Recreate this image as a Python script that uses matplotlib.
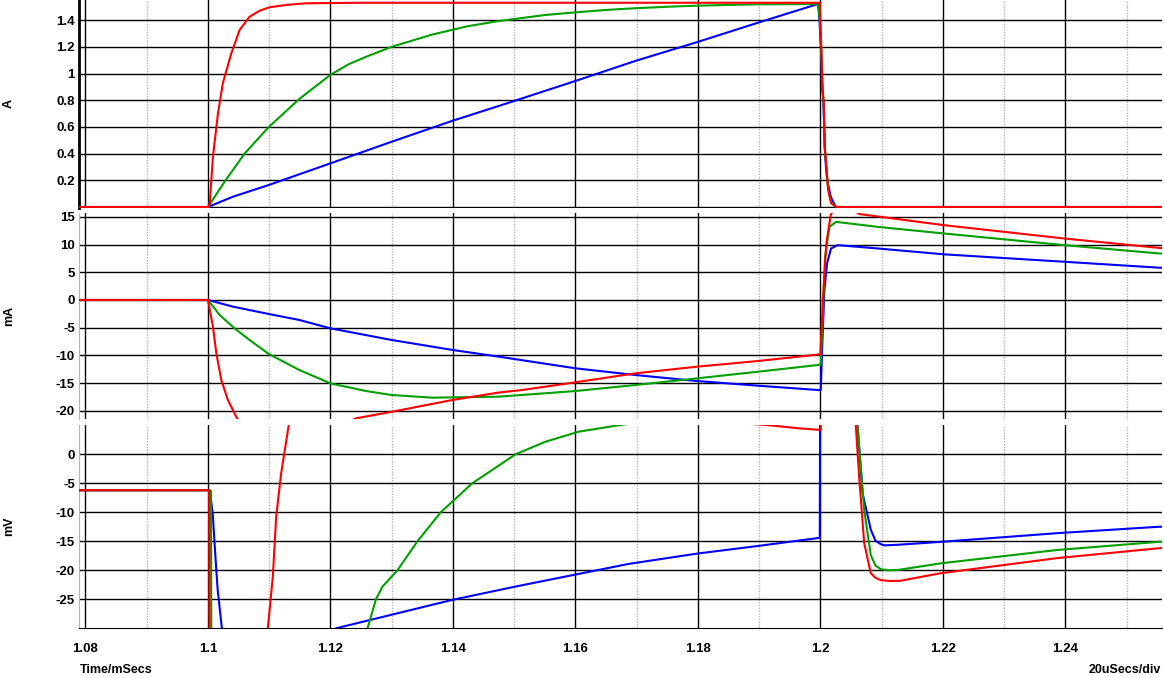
import numpy as np
import matplotlib.pyplot as plt

plt.rcParams['font.family'] = 'Liberation Sans'
plt.rcParams['font.weight'] = 'bold'
plt.rcParams['axes.unicode_minus'] = False

# ---- top panel (A) ----
top_red_t = [1.075, 1.1, 1.10028, 1.10081, 1.10163, 1.10244, 1.10381, 1.10516, 1.10679, 1.10842,
             1.11005, 1.113, 1.11603, 1.125, 1.15, 1.18, 1.1999, 1.2000, 1.20016, 1.20033, 1.20055,
             1.20071, 1.20098, 1.20114, 1.20125, 1.20152, 1.20179, 1.2026, 1.26]
top_red_v = [0, 0, 0.02, 0.377, 0.70, 0.93, 1.15, 1.326, 1.425, 1.47,
             1.496, 1.515, 1.526, 1.53, 1.53, 1.53, 1.53, 1.40, 1.176, 0.901, 0.777,
             0.452, 0.302, 0.202, 0.14, 0.077, 0.028, 0, 0]

top_green_t = [1.075, 1.1, 1.10272, 1.10598, 1.10994, 1.11493, 1.12, 1.123, 1.1258, 1.13, 1.13664,
               1.1425, 1.14751, 1.155, 1.16, 1.165, 1.16977, 1.175, 1.1798, 1.18932, 1.19963,
               1.1999, 1.20016, 1.20033, 1.20055, 1.20071, 1.20098, 1.20125, 1.20152, 1.20179,
               1.2026, 1.26]
top_green_v = [0, 0, 0.19, 0.40, 0.60, 0.81, 0.99, 1.07, 1.125, 1.20, 1.292,
               1.355, 1.393, 1.438, 1.458, 1.476, 1.489, 1.500, 1.508, 1.518, 1.52,
               1.40, 1.176, 0.901, 0.777, 0.452, 0.302, 0.14, 0.077, 0.028,
               0, 0]

top_blue_t = [1.075, 1.1, 1.10407, 1.10994, 1.12, 1.13, 1.14, 1.1475, 1.16, 1.16977, 1.1798,
              1.18985, 1.19963, 1.19985, 1.2001, 1.2003, 1.2005, 1.2007, 1.2009, 1.2011, 1.2014,
              1.2017, 1.2025, 1.26]
top_blue_v = [0, 0, 0.077, 0.165, 0.327, 0.489, 0.647, 0.757, 0.944, 1.094, 1.234,
              1.381, 1.521, 1.40, 1.176, 0.90, 0.777, 0.452, 0.302, 0.202, 0.14,
              0.077, 0.0, 0]

# ---- middle panel (mA) ----
mid_red_t = [1.075, 1.1, 1.10081, 1.10137, 1.10218, 1.10326, 1.10463, 1.106, 1.108, 1.11, 1.114,
             1.118, 1.122, 1.12417, 1.13013, 1.1399, 1.1475, 1.1513, 1.16, 1.16977, 1.1798,
             1.18985, 1.2, 1.2004, 1.20098, 1.20169, 1.2025, 1.2035, 1.2045, 1.20642, 1.2202,
             1.2398, 1.2553, 1.26]
mid_red_v = [0, 0, -4.82, -9.64, -14.46, -18.07, -21.1, -23.5, -25.5, -26.5, -26.0,
             -24.5, -22.5, -21.36, -20.15, -18.05, -16.7, -16.25, -14.86, -13.24, -12.04,
             -11.01, -9.8, 0, 10.25, 15.35, 17.0, 17.5, 16.8, 15.5, 13.5,
             11.1, 9.4, 9.1]

mid_green_t = [1.075, 1.1, 1.1019, 1.10435, 1.10679, 1.10994, 1.11493, 1.12, 1.1258, 1.13, 1.13664,
               1.1475, 1.16, 1.16977, 1.1798, 1.18985, 1.19963, 1.20006, 1.2004, 1.20076, 1.20147,
               1.20256, 1.20935, 1.2202, 1.2398, 1.2553, 1.26]
mid_green_v = [0, 0, -2.71, -5.12, -7.22, -9.75, -12.64, -15.05, -16.43, -17.15, -17.63,
               -17.45, -16.43, -15.35, -14.15, -12.94, -11.73, -11.6, -3.0, 7.8, 13.2,
               14.1, 13.2, 12.0, 9.9, 8.4, 8.2]

mid_blue_t = [1.075, 1.1, 1.10407, 1.10994, 1.11493, 1.12, 1.13, 1.14, 1.1475, 1.16, 1.16977,
              1.1798, 1.18985, 1.19963, 1.20006, 1.2004, 1.20066, 1.20109, 1.20174, 1.20283,
              1.20935, 1.2202, 1.2398, 1.2553, 1.26]
mid_blue_v = [0, 0, -1.2, -2.53, -3.61, -5.12, -7.22, -9.03, -10.23, -12.33, -13.54,
              -14.62, -15.47, -16.25, -16.25, -5.4, 1.8, 6.6, 9.3, 9.9,
              9.3, 8.24, 6.9, 5.83, 5.7]

# ---- bottom panel (mV) ----
bot_red_t = [1.075, 1.1, 1.1002, 1.1003, 1.102, 1.105, 1.108, 1.10977, 1.11059, 1.11114, 1.11195,
             1.11319, 1.116, 1.12, 1.13, 1.14, 1.16, 1.18, 1.19121, 1.1965, 1.20006, 1.2002,
             1.2025, 1.205, 1.20578, 1.20633, 1.20715, 1.20823, 1.2090, 1.20986, 1.2115, 1.21311,
             1.21965, 1.23865, 1.25521, 1.26]
bot_red_v = [-6.2, -6.2, -6.2, -60, -80, -75, -50, -30, -21.1, -10.75, -3.28,
             5.05, 9.0, 10.5, 10.0, 8.8, 7.2, 5.9, 5.05, 4.48, 4.19, 30,
             60, 20, 5.05, -3.9, -15.3, -20.5, -21.3, -21.7, -21.85, -21.8,
             -20.5, -17.9, -16.2, -16.0]

bot_green_t = [1.075, 1.1, 1.1005, 1.1006, 1.105, 1.115, 1.122, 1.12606, 1.12742, 1.1285, 1.13094,
               1.1342, 1.13801, 1.14316, 1.15023, 1.15511, 1.16054, 1.16733, 1.175, 1.185, 1.1999,
               1.2002, 1.203, 1.2058, 1.20606, 1.20715, 1.20823, 1.2090, 1.20986, 1.2110, 1.2126,
               1.21965, 1.23865, 1.25521, 1.26]
bot_green_v = [-6.2, -6.2, -6.3, -70, -90, -60, -38, -30, -25, -22.8, -20,
               -15, -10, -5, 0, 2.17, 3.9, 5.05, 6.2, 7.0, 7.5,
               35, 50, 15, 5.05, -9.6, -17.4, -19.2, -19.8, -20.0, -19.95,
               -18.8, -16.5, -15.1, -14.9]

bot_blue_t = [1.075, 1.1, 1.10028, 1.10077, 1.10125, 1.10158, 1.10223, 1.104, 1.11, 1.116, 1.12091,
              1.1399, 1.15023, 1.16868, 1.18, 1.18985, 1.1999, 1.2000, 1.2025, 1.2055, 1.20606,
              1.20688, 1.20823, 1.2090, 1.20986, 1.2105, 1.2126, 1.21965, 1.23865, 1.25521, 1.26]
bot_blue_v = [-6.2, -6.2, -6.2, -10.1, -18.2, -23.3, -29.6, -45, -50, -40, -30,
              -25.1, -22.8, -18.9, -17.1, -15.8, -14.4, 30, 60, 20, 5.05,
              -6.7, -13.0, -14.9, -15.5, -15.7, -15.6, -15.1, -13.6, -12.5, -12.3]

x_major = [1.08, 1.10, 1.12, 1.14, 1.16, 1.18, 1.20, 1.22, 1.24]
x_major_labels = ['1.08', '1.1', '1.12', '1.14', '1.16', '1.18', '1.2', '1.22', '1.24']
x_minor = [1.09, 1.11, 1.13, 1.15, 1.17, 1.19, 1.21, 1.23, 1.25]

top_ticks = [0, 0.2, 0.4, 0.6, 0.8, 1.0, 1.2, 1.4]
top_labels = ['', '0.2', '0.4', '0.6', '0.8', '1', '1.2', '1.4']
mid_ticks = [-20, -15, -10, -5, 0, 5, 10, 15]
bot_ticks = [-25, -20, -15, -10, -5, 0]

RED, GREEN, BLUE = '#FF0000', '#00A000', '#0000FF'
W, H = 1164, 678
fig = plt.figure(figsize=(W / 100, H / 100), dpi=100)

def panel(ytop, ybot):
    return fig.add_axes([79 / W, 1 - ybot / H, (1162 - 79) / W, (ybot - ytop) / H])

ax1 = panel(0, 208)
ax2 = panel(213, 419)
ax3 = panel(425, 628.3)

series = [
    (ax1, [(top_blue_t, top_blue_v, BLUE), (top_green_t, top_green_v, GREEN), (top_red_t, top_red_v, RED)]),
    (ax2, [(mid_blue_t, mid_blue_v, BLUE), (mid_green_t, mid_green_v, GREEN), (mid_red_t, mid_red_v, RED)]),
    (ax3, [(bot_blue_t, bot_blue_v, BLUE), (bot_green_t, bot_green_v, GREEN), (bot_red_t, bot_red_v, RED)]),
]
for ax, lines in series:
    for t, v, c in lines:
        ax.plot(t, v, color=c, lw=1.5, zorder=3)
    ax.set_xlim(1.07894, 1.25578)
    ax.set_xticks(x_major)
    ax.set_xticks(x_minor, minor=True)
    ax.grid(which='major', color='black', lw=1.0, zorder=1)
    ax.grid(which='minor', axis='x', color='#b4b4b4', lw=1.0, ls=(0, (1, 1)), zorder=1)
    ax.tick_params(which='both', length=0, labelsize=9.5, pad=3)
    ax.tick_params(axis='x', which='both', labelbottom=False)
    for s in ['top', 'right', 'bottom']:
        ax.spines[s].set_visible(False)
    ax.spines['left'].set_color('#b4b4b4')
    ax.spines['left'].set_linestyle((0, (1, 1)))

ax1.set_ylim(-1 / 133.5, 207 / 133.5)
ax1.set_yticks(top_ticks)
ax1.set_yticklabels(top_labels)
ax1.spines['left'].set_color('black')
ax1.spines['left'].set_linestyle('-')
ax1.spines['left'].set_linewidth(2)

ax2.set_ylim(-21.48, 15.70)
ax2.set_yticks(mid_ticks)

ax3.set_ylim(-30, 5.05)
ax3.set_yticks(bot_ticks)
ax3.spines['bottom'].set_visible(True)
ax3.spines['bottom'].set_color('black')
ax3.tick_params(axis='x', labelbottom=True, pad=10.5)
ax3.set_xticklabels(x_major_labels)

fig.text(9 / W, 1 - 103.5 / H, 'A', rotation=90, ha='center', va='center', fontsize=9)
fig.text(9 / W, 1 - 315.5 / H, 'mA', rotation=90, ha='center', va='center', fontsize=9)
fig.text(9 / W, 1 - 526.5 / H, 'mV', rotation=90, ha='center', va='center', fontsize=9)
fig.text(80 / W, 1 - 670 / H, 'Time/mSecs', ha='left', va='center', fontsize=9)
fig.text(1161 / W, 1 - 670 / H, '20uSecs/div', ha='right', va='center', fontsize=9)

fig.savefig('out.png', dpi=100)
